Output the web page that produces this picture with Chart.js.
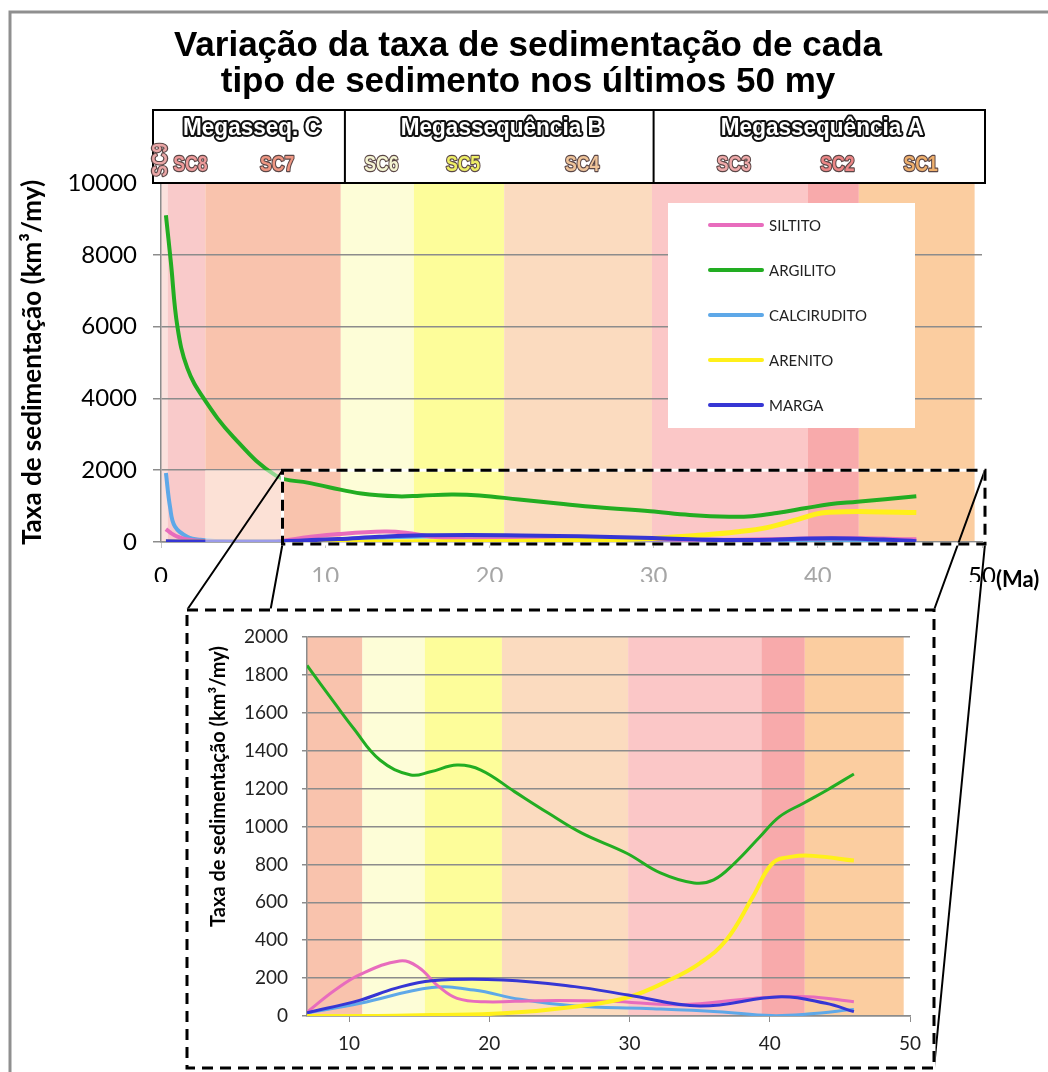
<!DOCTYPE html>
<html lang="pt">
<head>
<meta charset="utf-8">
<title>Taxa de sedimentação</title>
<script src="https://cdn.jsdelivr.net/npm/chart.js@4.4.1/dist/chart.umd.min.js"></script>
<style>
  html, body { margin: 0; padding: 0; background: #fff; }
  #wrap { position: relative; width: 1048px; height: 1072px; overflow: hidden; }
  #wrap canvas { position: absolute; left: 0; top: 0; }
</style>
</head>
<body>
<div id="wrap">
  <canvas id="mainChart" width="1048" height="1072"></canvas>
  <canvas id="zoomChart" width="1048" height="1072"></canvas>
</div>
<script>
// Séries (idade em Ma, taxa em km³/my)
const siltitoAges = [0.3, 0.6, 1, 1.6, 2.6, 4.4, 7, 9, 10.8, 13.6, 14.9, 16.4, 17.7, 19.7, 23.5, 28.6, 33.7, 38.8, 42.7, 46];
const siltitoValues = [360, 250, 150, 70, 25, 10, 20, 137, 220, 290, 260, 155, 93, 75, 81, 78, 60, 93, 102, 75];

const argilitoAges = [0.3, 0.6, 1, 1.6, 2.6, 4.4, 7, 9, 10.3, 12.2, 14.4, 15.8, 17.7, 19.4, 21.8, 24.2, 26.6, 29.8, 32.2, 34.6, 36, 37.5, 39.3, 40.7, 42.4, 44.1, 46];
const argilitoValues = [9100, 7800, 6000, 4850, 4000, 2930, 1850, 1648, 1520, 1351, 1272, 1289, 1324, 1298, 1184, 1071, 965, 859, 755, 702, 718, 807, 946, 1052, 1123, 1193, 1277];

const calciruditoAges = [0.3, 0.55, 0.85, 1.6, 2.4, 4.4, 7, 10.8, 15.9, 18.9, 22.2, 26.1, 31.2, 36.3, 40.1, 42.7, 46];
const calciruditoValues = [1920, 980, 430, 148, 60, 10, 17, 67, 150, 137, 88, 53, 40, 23, 2, 10, 35];

const arenitoAges = [0.3, 7, 12, 15.9, 21, 26.1, 29.9, 33, 35, 36.9, 38.8, 40.2, 41.6, 43.1, 46];
const arenitoValues = [0, 0, 0, 5, 14, 49, 99, 195, 278, 401, 630, 806, 841, 845, 820];

const margaAges = [0.3, 2, 4.4, 7, 10.8, 13.3, 15.9, 21, 26.1, 29.9, 35, 40.8, 44, 46];
const margaValues = [20, 15, 15, 17, 84, 146, 186, 190, 155, 111, 53, 102, 67, 23];

const seriesNames = ['SILTITO', 'ARGILITO', 'CALCIRUDITO', 'ARENITO', 'MARGA'];
const seriesColors = ['#e86cbd', '#22ad22', '#5ea8e8', '#fff01a', '#3636d4'];

// Sequências (limites em Ma)
const seqNames = ['SC9', 'SC8', 'SC7', 'SC6', 'SC5', 'SC4', 'SC3', 'SC2', 'SC1'];
const seqEdges = [0, 0.4, 2.7, 10.95, 15.4, 20.9, 29.9, 39.4, 42.5, 49.55];
const seqColors = ['#fbe1dd', '#f9caca', '#f9c3ad', '#fdfdd7', '#fdfd9a', '#fbdbbf', '#fbc7c7', '#f8aaab', '#fbcda0'];
const seqTextColors = ['#eaa6a6', '#ee9a9a', '#ee9682', '#f5f5d2', '#eeee66', '#efc49a', '#f0aaaa', '#ec8686', '#eeaf6c'];

const megaNames = ['Megasseq. C', 'Megassequência B', 'Megassequência A'];
const megaEdges = [0, 11.2, 30, 50];

const titleLines = ['Variação da taxa de sedimentação de cada', 'tipo de sedimento nos últimos 50 my'];
const yTitle = 'Taxa de sedimentação (km³/my)';

const mainTicksX = [0, 10, 20, 30, 40, 50];
const zoomTicksX = [10, 20, 30, 40, 50];
const zoomMin = 7;          // primeira idade do gráfico ampliado
const zoomStart = 7.4;      // canto esquerdo do recorte no gráfico principal
const zoomFrame = { left: 187, top: 610, right: 934, bottom: 1068 };

Chart.defaults.font.family = 'Lato, "Open Sans", sans-serif';
Chart.defaults.color = '#000';

const seriesAges = [siltitoAges, argilitoAges, calciruditoAges, arenitoAges, margaAges];
const seriesValues = [siltitoValues, argilitoValues, calciruditoValues, arenitoValues, margaValues];
const drawOrder = [2, 4, 3, 1, 0];

function makeDatasets(width, fromAge) {
  return seriesNames.map((name, i) => ({
    label: name,
    data: seriesAges[i]
      .map((a, k) => ({ x: a, y: seriesValues[i][k] }))
      .filter(p => p.x >= fromAge),
    borderColor: seriesColors[i],
    borderWidth: (name === 'ARENITO') ? width + 1 : width,
    pointRadius: 0,
    fill: false,
    tension: 0.4,
    order: drawOrder[i]
  }));
}

function drawBands(ctx, xs, a) {
  for (let i = 0; i < seqColors.length; i++) {
    const x0 = Math.max(xs.getPixelForValue(seqEdges[i]), a.left);
    const x1 = Math.min(xs.getPixelForValue(seqEdges[i + 1]), a.right);
    if (x1 <= x0) continue;
    ctx.fillStyle = seqColors[i];
    ctx.fillRect(x0, a.top, x1 - x0, a.bottom - a.top);
  }
}

function outlinedText(ctx, text, cx, cy, fill, stroke, lw, sx, rot) {
  ctx.save();
  ctx.translate(cx, cy);
  if (rot) ctx.rotate(rot);
  ctx.scale(sx, 1);
  ctx.lineJoin = 'round';
  ctx.lineWidth = lw;
  ctx.strokeStyle = stroke;
  ctx.strokeText(text, 0, 0);
  ctx.fillStyle = fill;
  ctx.fillText(text, 0, 0);
  ctx.restore();
}

function dashedRect(ctx, x0, y0, x1, y1) {
  ctx.lineWidth = 3;
  ctx.setLineDash([]);
  ctx.strokeStyle = '#fff';
  ctx.strokeRect(x0, y0, x1 - x0, y1 - y0);
  ctx.setLineDash([11, 7]);
  ctx.strokeStyle = '#000';
  ctx.strokeRect(x0, y0, x1 - x0, y1 - y0);
  ctx.setLineDash([]);
}

const plainNumber = v => String(v);

const mainDecor = {
  id: 'mainDecor',
  beforeDraw(chart) {
    const { ctx, chartArea: a, scales: { x } } = chart;
    ctx.save();
    ctx.fillStyle = '#fff';
    ctx.fillRect(0, 0, chart.width, chart.height);
    // moldura
    ctx.strokeStyle = '#8f8f8f';
    ctx.lineWidth = 3;
    ctx.beginPath();
    ctx.moveTo(10, chart.height);
    ctx.lineTo(10, 12);
    ctx.lineTo(chart.width, 12);
    ctx.stroke();
    // título
    ctx.fillStyle = '#000';
    ctx.textAlign = 'center';
    ctx.textBaseline = 'alphabetic';
    ctx.font = 'bold 35px "Liberation Sans", Arial, sans-serif';
    ctx.fillText(titleLines[0], 528, 56);
    ctx.fillText(titleLines[1], 528, 92);
    drawBands(ctx, x, a);
    ctx.restore();
  },
  afterDatasetsDraw(chart) {
    const { ctx, chartArea: a, scales: { x, y } } = chart;
    ctx.save();
    // véu claro à esquerda do recorte
    ctx.fillStyle = 'rgba(255,255,255,0.5)';
    const vx0 = x.getPixelForValue(seqEdges[2]);
    const vx1 = x.getPixelForValue(zoomStart);
    ctx.fillRect(vx0, y.getPixelForValue(2000), vx1 - vx0, y.getPixelForValue(0) - y.getPixelForValue(2000));
    // legenda
    const lx = a.right - 314, ly = a.top + 20;
    ctx.fillStyle = '#fff';
    ctx.fillRect(lx, ly, 247, 225);
    ctx.font = '15px Lato, sans-serif';
    ctx.textAlign = 'left';
    ctx.textBaseline = 'middle';
    seriesNames.forEach((name, i) => {
      const yy = ly + 22 + i * 45;
      ctx.strokeStyle = seriesColors[i];
      ctx.lineWidth = 4;
      ctx.lineCap = 'round';
      ctx.beginPath();
      ctx.moveTo(lx + 42, yy);
      ctx.lineTo(lx + 94, yy);
      ctx.stroke();
      ctx.fillStyle = '#222';
      ctx.fillText(name, lx + 101, yy + 1);
    });
    ctx.restore();
  },
  afterDraw(chart) {
    const { ctx, chartArea: a, scales: { x, y } } = chart;
    ctx.save();
    // cabeçalho das megassequências
    const hx0 = a.left - 8, hx1 = x.getPixelForValue(50) + 3, hy0 = 110, hy1 = a.top;
    ctx.strokeStyle = '#000';
    ctx.lineWidth = 2;
    ctx.strokeRect(hx0, hy0, hx1 - hx0, hy1 - hy0);
    ctx.beginPath();
    for (let i = 1; i < megaEdges.length - 1; i++) {
      const px = x.getPixelForValue(megaEdges[i]);
      ctx.moveTo(px, hy0);
      ctx.lineTo(px, hy1);
    }
    ctx.stroke();
    ctx.textAlign = 'center';
    ctx.textBaseline = 'middle';
    ctx.font = 'bold 23px "Liberation Sans", Arial, sans-serif';
    megaNames.forEach((name, i) => {
      const l = i === 0 ? hx0 : x.getPixelForValue(megaEdges[i]);
      const r = i === megaNames.length - 1 ? hx1 : x.getPixelForValue(megaEdges[i + 1]);
      outlinedText(ctx, name, (l + r) / 2 + 3, 129, '#fff', '#111', 4, 0.98);
    });
    ctx.font = 'bold 22px "Liberation Sans", Arial, sans-serif';
    seqNames.forEach((name, i) => {
      const cx = x.getPixelForValue((seqEdges[i] + seqEdges[i + 1]) / 2);
      if (i === 0) {
        outlinedText(ctx, name, cx - 3, 160, seqTextColors[i], '#5a4646', 2.5, 0.78, -Math.PI / 2);
      } else {
        outlinedText(ctx, name, cx + 4, 165, seqTextColors[i], '#5a4646', 2.5, 0.8);
      }
    });
    // título do eixo y
    ctx.save();
    ctx.translate(33, (a.top + a.bottom) / 2);
    ctx.rotate(-Math.PI / 2);
    ctx.font = 'bold 26px Lato, sans-serif';
    ctx.fillStyle = '#000';
    ctx.fillText(yTitle, 0, 0);
    ctx.restore();
    // unidade do eixo x
    ctx.font = 'bold 22px Lato, sans-serif';
    ctx.textAlign = 'left';
    ctx.fillStyle = '#000';
    ctx.fillText('(Ma)', x.getPixelForValue(50) + 14, 580);

    // recorte ampliado e linhas de ligação
    const bx0 = x.getPixelForValue(zoomStart), bx1 = x.getPixelForValue(50) + 3;
    const by0 = y.getPixelForValue(2000), by1 = y.getPixelForValue(0) + 2;
    const f = zoomFrame;
    ctx.strokeStyle = '#000';
    ctx.lineWidth = 2;
    ctx.beginPath();
    ctx.moveTo(bx0, by0); ctx.lineTo(f.left, f.top);
    ctx.moveTo(bx0, by1); ctx.lineTo(f.left, f.bottom);
    ctx.moveTo(bx1, by0); ctx.lineTo(f.right, f.top);
    ctx.moveTo(bx1, by1); ctx.lineTo(f.right, f.bottom);
    ctx.stroke();
    ctx.fillStyle = '#fff';
    ctx.fillRect(f.left, f.top, f.right - f.left, f.bottom - f.top);
    dashedRect(ctx, f.left, f.top, f.right, f.bottom);
    dashedRect(ctx, bx0, by0, bx1, by1);
    ctx.restore();
  }
};

const zoomDecor = {
  id: 'zoomDecor',
  beforeDraw(chart) {
    const { ctx, chartArea: a, scales: { x } } = chart;
    ctx.save();
    drawBands(ctx, x, a);
    ctx.restore();
  },
  afterDraw(chart) {
    const { ctx, chartArea: a } = chart;
    ctx.save();
    ctx.translate(219, (a.top + a.bottom) / 2 - 40);
    ctx.rotate(-Math.PI / 2);
    ctx.font = 'bold 20px Lato, sans-serif';
    ctx.textAlign = 'center';
    ctx.textBaseline = 'middle';
    ctx.fillStyle = '#000';
    ctx.fillText(yTitle, 0, 0);
    ctx.restore();
  }
};

const axisGrey = '#8c8c8c';

// Gráfico principal (0–50 Ma)
const mainCtx = document.getElementById('mainChart').getContext('2d');
const mainChart = new Chart(mainCtx, {
  type: 'line',
  data: { datasets: makeDatasets(4, 0) },
  options: {
    responsive: false,
    animation: false,
    events: [],
    layout: { padding: { left: 0, right: 66, top: 183, bottom: 490 } },
    plugins: { legend: { display: false }, tooltip: { enabled: false } },
    scales: {
      x: {
        type: 'linear',
        min: 0,
        max: 50,
        afterBuildTicks: s => { s.ticks = mainTicksX.map(v => ({ value: v })); },
        afterFit: s => { s.height = 40; },
        ticks: {
          font: { size: 24 },
          padding: 14,
          maxRotation: 0,
          callback: plainNumber,
          color: c => (c.tick.value === 0 || c.tick.value === 50) ? '#000' : '#a6a6a6'
        },
        grid: { drawOnChartArea: false, color: '#c4c4c4', tickLength: 6 },
        border: { color: axisGrey, width: 1.5 }
      },
      y: {
        min: 0,
        max: 10000,
        afterFit: s => { s.width = 161; },
        ticks: { stepSize: 2000, font: { size: 24 }, color: '#000', padding: 16, callback: plainNumber },
        grid: { color: axisGrey, lineWidth: 1.5, tickLength: 8 },
        border: { color: axisGrey, width: 1.5 }
      }
    }
  },
  plugins: [mainDecor]
});

// Detalhe ampliado (7–50 Ma, 0–2000)
const zoomCtx = document.getElementById('zoomChart').getContext('2d');
const zoomChart = new Chart(zoomCtx, {
  type: 'line',
  data: { datasets: makeDatasets(3, zoomMin) },
  options: {
    responsive: false,
    animation: false,
    events: [],
    layout: { padding: { left: 190, right: 138, top: 637, bottom: 16 } },
    plugins: { legend: { display: false }, tooltip: { enabled: false } },
    scales: {
      x: {
        type: 'linear',
        min: zoomMin,
        max: 50,
        afterBuildTicks: s => { s.ticks = zoomTicksX.map(v => ({ value: v })); },
        afterFit: s => { s.height = 40; },
        ticks: { font: { size: 19 }, color: '#222', padding: 10, maxRotation: 0, callback: plainNumber },
        grid: { drawOnChartArea: false, color: axisGrey, tickLength: 6 },
        border: { color: axisGrey, width: 1.5 }
      },
      y: {
        min: 0,
        max: 2000,
        afterFit: s => { s.width = 117; },
        ticks: { stepSize: 200, font: { size: 19 }, color: '#222', padding: 14, callback: plainNumber },
        grid: { color: axisGrey, lineWidth: 1.5, tickLength: 5 },
        border: { color: axisGrey, width: 1.5 }
      }
    }
  },
  plugins: [zoomDecor]
});
</script>
</body>
</html>
